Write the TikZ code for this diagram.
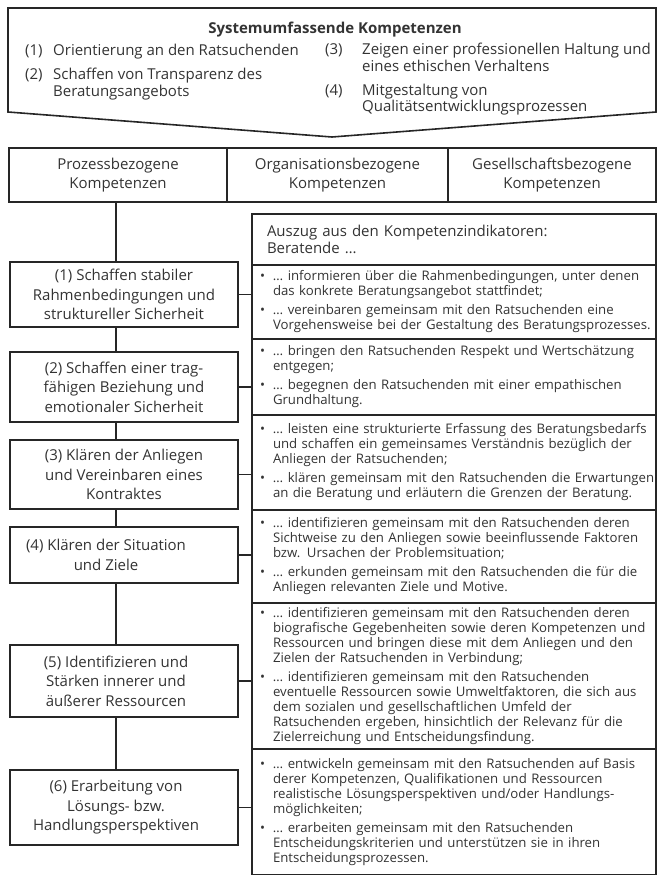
\documentclass[tikz,border=0pt]{standalone}
\usepackage{fontspec}
\setmainfont{Open Sans}
\newcommand{\kastenschrift}{\fontsize{15}{19.5}\selectfont}
\newcommand{\kopfschrift}{\fontsize{15}{17}\selectfont}
\newcommand{\listenschrift}{\fontsize{13.2}{15}\selectfont}
\newcommand{\luecke}[1]{\rule{#1}{0pt}}

\begin{document}
\begin{tikzpicture}[x=1pt,y=-1pt,
    rahmen/.style={draw=black!85,line width=1.6pt},
    feld/.style={rahmen,text=black!80,align=center,font=\kastenschrift,minimum height=54pt,inner sep=0pt},
    stufe/.style={rahmen,text=black!80,align=center,font=\kastenschrift,minimum width=228pt,inner sep=0pt},
    indikator/.style={rahmen,text=black!80,align=left,font=\listenschrift,minimum width=404pt,text width=388pt,inner xsep=8pt,inner ysep=0pt},
    punkt/.style={text=black!80,font=\kopfschrift,anchor=base west,inner sep=0pt}]
    \useasboundingbox (0,0) rectangle (660,875);

    % systemumfassende Kompetenzen
    \draw[rahmen] (8,8) -- (656,8) -- (656,112) -- (332,137) -- (8,112) -- cycle;
    \node[punkt,anchor=base,font=\kopfschrift\bfseries] (system) at (335,34) {Systemumfassende Kompetenzen};
    \node[punkt] (nr1) at (25,56) {(1)};
    \node[punkt] (sk1) at (53,56) {Orientierung an den Ratsuchenden};
    \node[punkt] (nr2) at (25,80) {(2)};
    \node[punkt] (sk2) at (53,80) {\begin{tabular}[t]{@{}l@{}}Schaffen von Transparenz des\\Beratungsangebots\end{tabular}};
    \node[punkt] (nr3) at (325,55) {(3)};
    \node[punkt] (sk3) at (362,55) {\begin{tabular}[t]{@{}l@{}}Zeigen einer professionellen Haltung und\\eines ethischen Verhaltens\end{tabular}};
    \node[punkt] (nr4) at (325,95) {(4)};
    \node[punkt] (sk4) at (362,95) {\begin{tabular}[t]{@{}l@{}}Mitgestaltung von\\Qualitätsentwicklungsprozessen\end{tabular}};

    % drei Kompetenzbereiche
    \node[feld,minimum width=218pt] (prozess) at (118,175) {Prozessbezogene\\Kompetenzen};
    \node[feld,minimum width=221pt] (organisation) at (337.5,175) {Organisationsbezogene\\Kompetenzen};
    \node[feld,minimum width=208pt] (gesellschaft) at (552,175) {Gesellschaftsbezogene\\Kompetenzen};

    % Prozessbezogene Kompetenzen
    \node[stufe,minimum height=65pt] (s1) at (124,294.5) {(1) Schaffen stabiler\\Rahmenbedingungen und\\struktureller Sicherheit};
    \node[stufe,minimum height=70pt] (s2) at (124,387) {(2) Schaffen einer trag-\\fähigen Beziehung und\\emotionaler Sicherheit};
    \node[stufe,minimum height=69pt] (s3) at (124,474.5) {(3) Klären der Anliegen\\und Vereinbaren eines\\Kontraktes};
    \node[stufe,minimum height=56pt] (s4) at (124,555) {(4) Klären der Situation\luecke{36pt}\\und Ziele\luecke{36pt}};
    \node[stufe,minimum height=72pt] (s5) at (124,681) {(5) Identifizieren und\luecke{16pt}\\Stärken innerer und\luecke{16pt}\\äußerer Ressourcen\luecke{16pt}};
    \node[stufe,minimum height=75pt] (s6) at (124,807.5) {(6) Erarbeitung von\luecke{16pt}\\Lösungs- bzw.\luecke{16pt}\\Handlungsperspektiven\luecke{16pt}};

    \coordinate (achse) at (116,0);
    \draw[rahmen] (prozess.south -| achse) -- (s1.north -| achse);
    \foreach \a/\b in {s1/s2,s2/s3,s3/s4,s4/s5,s5/s6}
    {
        \draw[rahmen] (\a.south -| achse) -- (\b.north -| achse);
    }

    % Kompetenzindikatoren
    \node[indikator,font=\kopfschrift,text width=374pt,inner xsep=15pt,minimum height=51pt] (kopf) at (454,239.5)
        {Auszug aus den Kompetenzindikatoren:\\Beratende …};
    \node[indikator,minimum height=74pt] (i1) at (454,302) {\begin{tabular}{@{}p{13pt}@{}l@{}}
        \textbullet & … informieren über die Rahmenbedingungen, unter denen\\
        & das konkrete Beratungsangebot stattfindet;\\[4pt]
        \textbullet & … vereinbaren gemeinsam mit den Ratsuchenden eine\\
        & Vorgehensweise bei der Gestaltung des Beratungsprozesses.
    \end{tabular}};
    \node[indikator,minimum height=76pt] (i2) at (454,377) {\begin{tabular}{@{}p{13pt}@{}l@{}}
        \textbullet & … bringen den Ratsuchenden Respekt und Wertschätzung\\
        & entgegen;\\[4pt]
        \textbullet & … begegnen den Ratsuchenden mit einer empathischen\\
        & Grundhaltung.
    \end{tabular}};
    \node[indikator,minimum height=95pt] (i3) at (454,462.5) {\begin{tabular}{@{}p{13pt}@{}l@{}}
        \textbullet & … leisten eine strukturierte Erfassung des Beratungsbedarfs\\
        & und schaffen ein gemeinsames Verständnis bezüglich der\\
        & Anliegen der Ratsuchenden;\\[4pt]
        \textbullet & … klären gemeinsam mit den Ratsuchenden die Erwartungen\\
        & an die Beratung und erläutern die Grenzen der Beratung.
    \end{tabular}};
    \node[indikator,minimum height=93pt] (i4) at (454,556.5) {\begin{tabular}{@{}p{13pt}@{}l@{}}
        \textbullet & … identifizieren gemeinsam mit den Ratsuchenden deren\\
        & Sichtweise zu den Anliegen sowie beeinflussende Faktoren\\
        & bzw. Ursachen der Problemsituation;\\[4pt]
        \textbullet & … erkunden gemeinsam mit den Ratsuchenden die für die\\
        & Anliegen relevanten Ziele und Motive.
    \end{tabular}};
    \node[indikator,minimum height=146pt] (i5) at (454,676) {\begin{tabular}{@{}p{13pt}@{}l@{}}
        \textbullet & … identifizieren gemeinsam mit den Ratsuchenden deren\\
        & biografische Gegebenheiten sowie deren Kompetenzen und\\
        & Ressourcen und bringen diese mit dem Anliegen und den\\
        & Zielen der Ratsuchenden in Verbindung;\\[4pt]
        \textbullet & … identifizieren gemeinsam mit den Ratsuchenden\\
        & eventuelle Ressourcen sowie Umweltfaktoren, die sich aus\\
        & dem sozialen und gesellschaftlichen Umfeld der\\
        & Ratsuchenden ergeben, hinsichtlich der Relevanz für die\\
        & Zielerreichung und Entscheidungsfindung.
    \end{tabular}};
    \node[indikator,minimum height=126pt] (i6) at (454,812) {\begin{tabular}{@{}p{13pt}@{}l@{}}
        \textbullet & … entwickeln gemeinsam mit den Ratsuchenden auf Basis\\
        & derer Kompetenzen, Qualifikationen und Ressourcen\\
        & realistische Lösungsperspektiven und/oder Handlungs-\\
        & möglichkeiten;\\[4pt]
        \textbullet & … erarbeiten gemeinsam mit den Ratsuchenden\\
        & Entscheidungskriterien und unterstützen sie in ihren\\
        & Entscheidungsprozessen.
    \end{tabular}};

    \foreach \s/\i in {s1/i1,s2/i2,s3/i3,s4/i4,s5/i5,s6/i6}
    {
        \draw[rahmen] (\s.east) -- (\s.east -| \i.west);
    }
\end{tikzpicture}
\end{document}
